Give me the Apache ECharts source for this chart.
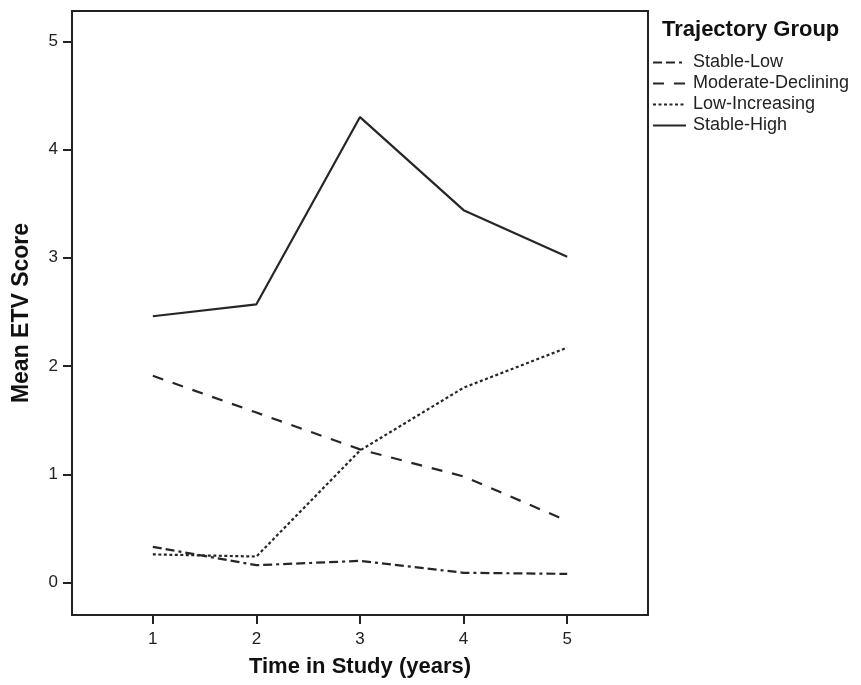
<!DOCTYPE html>
<html><head><meta charset="utf-8">
<script src="https://cdn.jsdelivr.net/npm/echarts@6/dist/echarts.min.js"></script>
<style>html,body{margin:0;padding:0;background:#fff}#c{width:861px;height:685px}</style>
</head><body><div id="c"></div>
<script>
const years = [1, 2, 3, 4, 5];
const yTicks = [0, 1, 2, 3, 4, 5];
const stableLow = [0.33, 0.16, 0.20, 0.09, 0.08];
const moderateDeclining = [1.91, 1.57, 1.23, 0.98, 0.57];
const lowIncreasing = [0.26, 0.24, 1.22, 1.80, 2.17];
const stableHigh = [2.46, 2.57, 4.30, 3.44, 3.01];
const seriesNames = ['Stable-Low', 'Moderate-Declining', 'Low-Increasing', 'Stable-High'];
const dashes = [[9, 4, 9, 4, 3, 4], [11, 10], [3, 2.5], 'solid'];
const values = [stableLow, moderateDeclining, lowIncreasing, stableHigh];

const font = '"Liberation Sans", Arial, sans-serif';
const chart = echarts.init(document.getElementById('c'), null, {renderer: 'canvas'});
chart.setOption({
  animation: false,
  backgroundColor: '#fff',
  title: {text: 'Trajectory Group', left: 662, top: 19, padding: 0,
    textStyle: {fontFamily: font, fontSize: 22, fontWeight: 'bold', color: '#111'}},
  legend: {orient: 'vertical', left: 652, top: 52, padding: 0, itemGap: 0, itemWidth: 33, itemHeight: 14,
    data: seriesNames,
    itemStyle: {opacity: 0, color: 'transparent', borderWidth: 0},
    textStyle: {fontFamily: font, fontSize: 18, lineHeight: 21, color: '#222', padding: [0, 0, 0, 2]}},
  grid: {left: 72, top: 11, width: 576, height: 604, show: true, borderColor: '#222', borderWidth: 2, containLabel: false},
  xAxis: {type: 'value', min: 0.22, max: 5.78,
    name: 'Time in Study (years)', nameLocation: 'middle', nameGap: 41,
    nameTextStyle: {fontFamily: font, fontSize: 22, fontWeight: 'bold', color: '#111'},
    axisLine: {show: true, onZero: false, lineStyle: {color: '#222', width: 2}},
    axisTick: {show: true, length: 9, customValues: years, lineStyle: {color: '#222', width: 2}},
    axisLabel: {customValues: years, fontFamily: font, fontSize: 17, color: '#222', margin: 16},
    splitLine: {show: false}},
  yAxis: {type: 'value', min: -0.3, max: 5.28,
    name: 'Mean ETV Score', nameLocation: 'middle', nameGap: 39,
    nameTextStyle: {fontFamily: font, fontSize: 23, fontWeight: 'bold', color: '#111'},
    axisLine: {show: true, onZero: false, lineStyle: {color: '#222', width: 2}},
    axisTick: {show: true, length: 9, customValues: yTicks, lineStyle: {color: '#222', width: 2}},
    axisLabel: {customValues: yTicks, fontFamily: font, fontSize: 17, color: '#222', margin: 14},
    splitLine: {show: false}},
  series: seriesNames.map((n, i) => ({
    name: n, type: 'line', symbol: 'none',
    data: years.map((x, j) => [x, values[i][j]]),
    lineStyle: {color: '#262626', width: 2.2, type: dashes[i]},
    itemStyle: {color: '#262626'}
  }))
});
</script></body></html>
